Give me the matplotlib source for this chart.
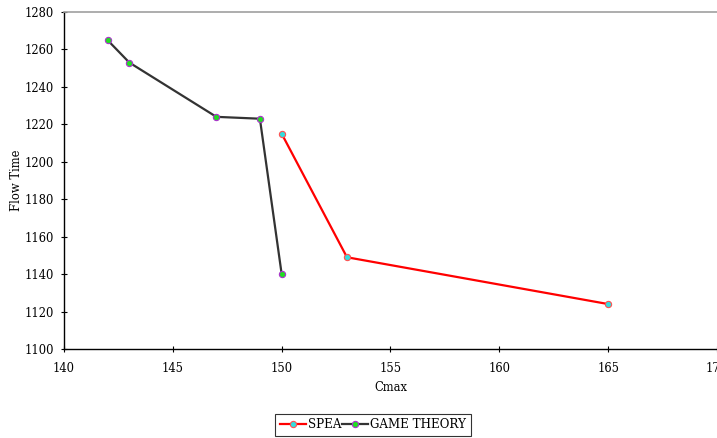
import matplotlib
matplotlib.use("Agg")
import matplotlib.pyplot as plt

game_x = [142, 143, 147, 149, 150]
game_y = [1265, 1253, 1224, 1223, 1140]
spea_x = [150, 153, 165]
spea_y = [1215, 1149, 1124]
xticks = [140, 145, 150, 155, 160, 165, 170]
yticks = list(range(1100, 1281, 20))

plt.rcParams['font.family'] = ['DejaVu Serif']
fig = plt.figure(figsize=(7.17, 4.38), dpi=100)
ax = fig.add_axes([64/717, 1-349/438, 1-64/717, (349-12)/438])

ax.plot(spea_x, spea_y, color='red', lw=1.6, marker='o', ms=4.5,
        mfc='#33dddd', mec='#ff5050', mew=0.8, label='SPEA', zorder=3)
ax.plot(game_x, game_y, color='#333333', lw=1.6, marker='o', ms=4.5,
        mfc='#22dd22', mec='#aa33cc', mew=0.8, label='GAME THEORY', zorder=3)

ax.set_xlim(140, 170)
ax.set_ylim(1100, 1280)
ax.set_xticks(xticks)
ax.set_yticks(yticks)
ax.tick_params(direction='inout', length=5, width=0.8, labelsize=8.3)
ax.tick_params(axis='x', pad=7)
ax.tick_params(axis='y', pad=5)
ax.spines['right'].set_visible(False)
ax.spines['top'].set_color('#a0a0a0')
ax.spines['top'].set_linewidth(1.2)
ax.spines['left'].set_linewidth(1.0)
ax.spines['bottom'].set_linewidth(1.0)

ax.set_xlabel('Cmax', fontsize=8.3, labelpad=4)
ax.set_ylabel('Flow Time', fontsize=8.3, labelpad=1)

leg = fig.legend(loc='center', bbox_to_anchor=(373/717, 1-425/438), ncol=2,
                 fontsize=8.6, frameon=True, fancybox=False, edgecolor='black',
                 handlelength=2.2, handletextpad=0.2, columnspacing=0.0,
                 borderpad=0.35, borderaxespad=0)
leg.get_frame().set_linewidth(0.8)

fig.savefig('out.png', dpi=100)
